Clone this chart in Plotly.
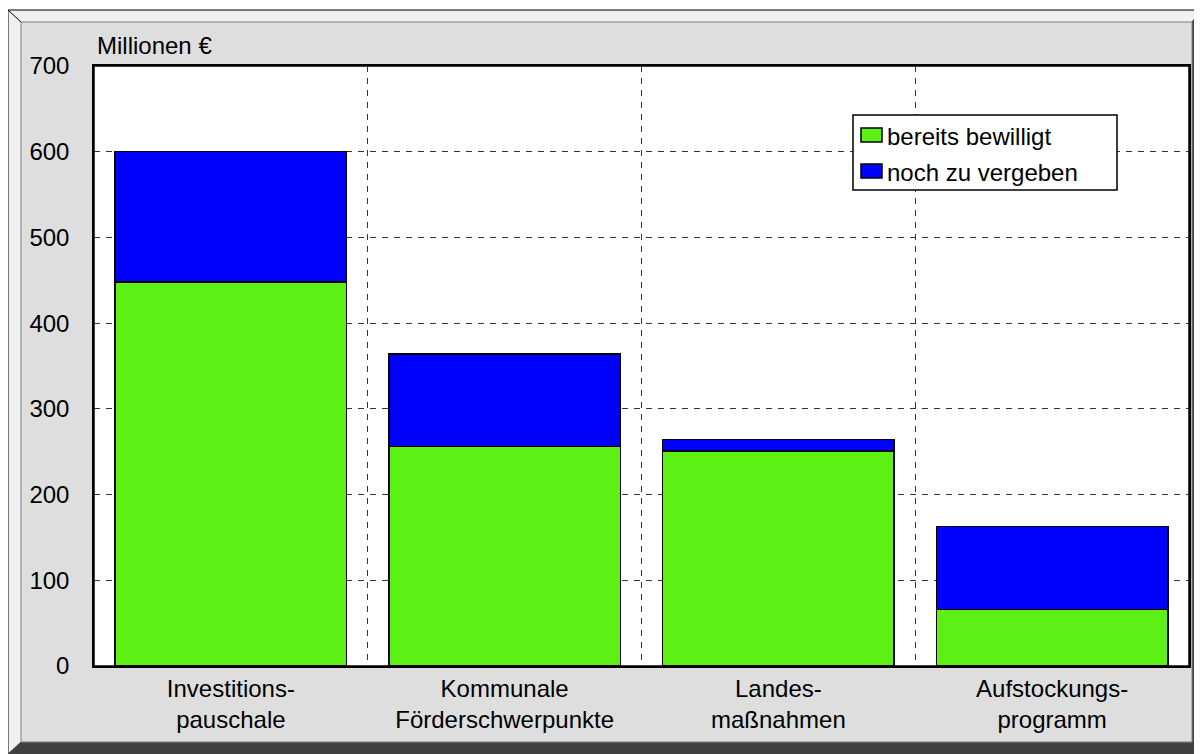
import plotly.graph_objects as go

categories = ["Investitions-<br>pauschale", "Kommunale<br>Förderschwerpunkte",
              "Landes-<br>maßnahmen", "Aufstockungs-<br>programm"]
bewilligt = [448, 256, 251, 66]
noch_zu_vergeben = [152, 108, 13, 97]
series_names = ["bereits bewilligt", "noch zu vergeben"]
series_colors = ["#5cf014", "#0000ff"]
y_label = "Millionen €"

OFF = 8  # page body margin
W, H = 1202 - OFF, 754 - OFF
# plot area in reference pixel coordinates
PL, PR, PT, PB = 94, 1189, 66, 666
L, R, T, B = PL - OFF, W - (PR - OFF), PT - OFF, H - (PB - OFF)
PW, PH = PR - PL, PB - PT

def px(x):
    return (x - PL) / PW

def py(y):
    return (PB - y) / PH

FONT = "Liberation Sans, Arial, sans-serif"

fig = go.Figure()
for vals, name, col in zip([bewilligt, noch_zu_vergeben], series_names, series_colors):
    fig.add_trace(go.Bar(x=categories, y=vals, name=name, showlegend=False,
                         marker=dict(color=col, line=dict(color="black", width=1.5))))

shapes = []
shapes.append(dict(type="rect", xref="paper", yref="paper", layer="below",
                   x0=px(8), x1=px(1202), y0=py(754), y1=py(10),
                   fillcolor="#f0f0f0", line=dict(color="black", width=1)))
path = "M {a},{b} L {c},{d} L {e},{f} L {g},{h} L {i},{j} L {k},{l} Z".format(
    a=px(1202), b=py(10), c=px(1202), d=py(754), e=px(8), f=py(754),
    g=px(21), h=py(742), i=px(1192), j=py(742), k=px(1192), l=py(22))
shapes.append(dict(type="path", xref="paper", yref="paper", layer="below", path=path,
                   fillcolor="#404040", line=dict(color="#404040", width=1)))
shapes.append(dict(type="rect", xref="paper", yref="paper", layer="below",
                   x0=px(21), x1=px(1192), y0=py(742), y1=py(22),
                   fillcolor="#dedede", line=dict(color="#808080", width=1)))
shapes.append(dict(type="line", xref="paper", yref="paper", layer="below",
                   x0=px(8), x1=px(21), y0=py(10), y1=py(22),
                   line=dict(color="black", width=1)))
shapes.append(dict(type="rect", xref="paper", yref="paper", layer="below",
                   x0=0, x1=1, y0=0, y1=1, fillcolor="white",
                   line=dict(color="black", width=1.5)))

# custom legend
shapes.append(dict(type="rect", xref="paper", yref="paper", layer="above",
                   x0=px(853), x1=px(1117), y0=py(190), y1=py(115),
                   fillcolor="white", line=dict(color="black", width=1.5)))
annotations = [dict(text=y_label, xref="paper", yref="paper",
                    x=px(95), y=py(46), xanchor="left", yanchor="middle",
                    showarrow=False, font=dict(size=24))]
row_y = [135, 171]
for name, col, ry in zip(series_names, series_colors, row_y):
    shapes.append(dict(type="rect", xref="paper", yref="paper", layer="above",
                       x0=px(861), x1=px(882), y0=py(ry + 7), y1=py(ry - 7),
                       fillcolor=col, line=dict(color="black", width=1.5)))
    annotations.append(dict(text=name, xref="paper", yref="paper",
                            x=px(885), y=py(ry + 1), xanchor="left", yanchor="middle",
                            showarrow=False, font=dict(size=24)))

fig.update_layout(
    width=W, height=H,
    margin=dict(l=L, r=R, t=T, b=B),
    paper_bgcolor="white", plot_bgcolor="white",
    barmode="stack", bargap=0.155,
    font=dict(family=FONT, size=24, color="black"),
    shapes=shapes,
    showlegend=False,
    annotations=annotations,
)
fig.update_xaxes(type="category", tickson="boundaries", showgrid=True,
                 gridcolor="#333333", griddash="6px,6px", gridwidth=1,
                 showline=True, linecolor="black", linewidth=1.5, mirror=True,
                 ticks="outside", ticklen=6, tickcolor="rgba(0,0,0,0)",
                 tickfont=dict(size=24))
fig.update_yaxes(range=[0, 700], dtick=100, showgrid=True,
                 gridcolor="#333333", griddash="6px,6px", gridwidth=1,
                 showline=True, linecolor="black", linewidth=1.5, mirror=True,
                 ticks="outside", ticklen=18, tickcolor="rgba(0,0,0,0)",
                 tickfont=dict(size=24), zeroline=False)

fig.write_html("out.html")
